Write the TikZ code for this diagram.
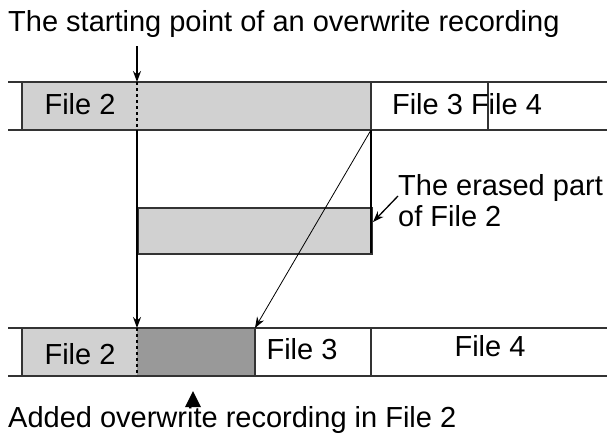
\documentclass[tikz,border=0pt]{standalone}
\usepackage{fontspec}
\setmainfont{Liberation Sans}
\usetikzlibrary{arrows.meta}
\begin{document}
\begin{tikzpicture}[x=1pt,y=-1pt,
  lbl/.style={inner sep=0,font=\fontsize{29}{31}\selectfont},
  ln/.style={line width=1.6pt,black!80},
  arr/.style={line width=1.3pt,-{Stealth[length=11pt,width=8pt]}}]
\useasboundingbox (0,0) rectangle (615,437);
% top bar
\fill[black!18] (22,82) rectangle (371,130);
\draw[ln] (8,82) -- (607,82) (8,130) -- (607,130);
\draw[ln] (22,82) -- (22,130) (371,82) -- (371,130) (488,82) -- (488,130);
\draw[dashed,line width=1.2pt] (137,82) -- (137,130);
\node[lbl] (f2a) at (80,104) {File 2};
\node[lbl] (f34) at (467,104) {File 3 File 4};
\node[lbl,anchor=west] (title) at (8,24) {The starting point of an overwrite recording};
\coordinate (s0) at (137,46);
\coordinate (s1) at (137,82);
\draw[arr] (s0) -- (s1);
% middle box
\node[draw=black!80,line width=1.6pt,fill=black!18,minimum width=234pt,minimum height=46pt,inner sep=0,anchor=north west] (mid) at (137,207) {};
\draw[line width=1.3pt] (371,130) -- (371,253);
\node[lbl,anchor=west,align=left] (er) at (398,201) {The erased part\\of File 2};
\coordinate (e0) at (398,196);
\coordinate (e1) at (373,222);
\draw[arr] (e0) -- (e1);
% bottom bar
\fill[black!18] (22,328) rectangle (137,376);
\fill[black!40] (137,328) rectangle (255,376);
\draw[ln] (8,328) -- (607,328) (8,376) -- (607,376);
\draw[ln] (22,328) -- (22,376) (255,328) -- (255,376) (371,328) -- (371,376);
\draw[dashed,line width=1.2pt] (137,328) -- (137,376);
\node[lbl] (f2b) at (80,354) {File 2};
\node[lbl] (f3b) at (302,349) {File 3};
\node[lbl] (f4b) at (490,346) {File 4};
\coordinate (v0) at (137,130);
\coordinate (v1) at (137,328);
\draw[arr] (v0) -- (v1);
\coordinate (d0) at (371,130);
\coordinate (d1) at (255,328);
\draw[arr,line width=0.8pt] (d0) -- (d1);
\fill (193,391) -- (201,407) -- (185,407) -- cycle;
\node[lbl,anchor=west] (bt) at (8,420) {Added overwrite recording in File 2};
\end{tikzpicture}
\end{document}
